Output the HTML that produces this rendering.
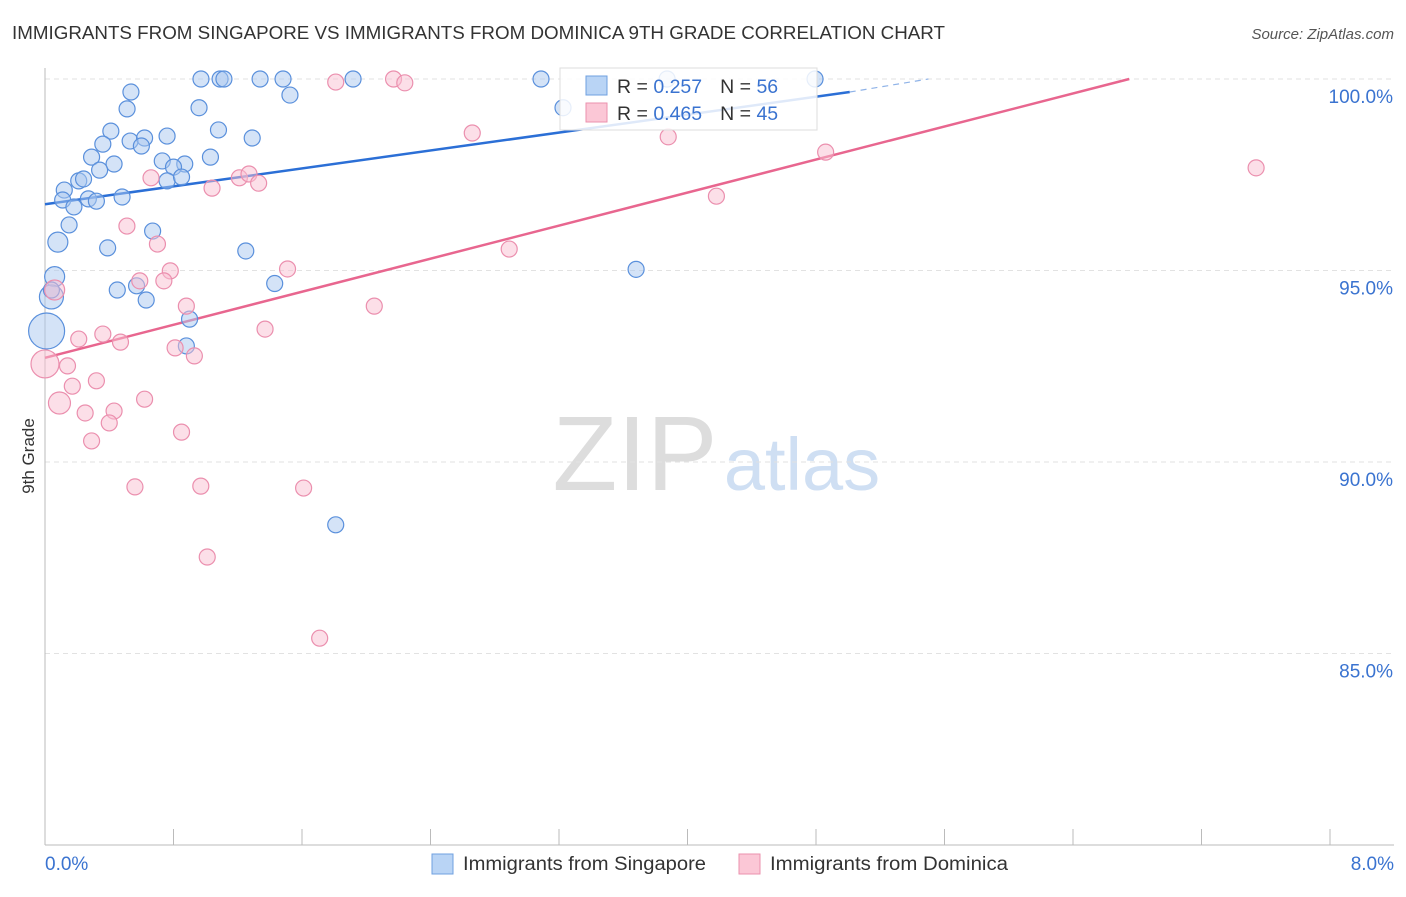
<!DOCTYPE html>
<html><head><meta charset="utf-8"><style>
body{margin:0;background:#fff;font-family:"Liberation Sans",sans-serif;}
svg text{font-family:"Liberation Sans",sans-serif;}
</style></head><body>
<svg id="chart" width="1406" height="892" xmlns="http://www.w3.org/2000/svg">
<text x="12" y="39" font-size="18.5" fill="#333" textLength="933" lengthAdjust="spacingAndGlyphs">IMMIGRANTS FROM SINGAPORE VS IMMIGRANTS FROM DOMINICA 9TH GRADE CORRELATION CHART</text>
<text x="1394" y="39" font-size="15" fill="#555" text-anchor="end" font-style="italic">Source: ZipAtlas.com</text>
<text transform="translate(34,456) rotate(-90)" font-size="17" fill="#333" text-anchor="middle">9th Grade</text>
<g><text x="635" y="490" font-size="106" fill="#ddd" font-family="Liberation Serif" text-anchor="middle">ZIP</text><text x="802" y="490" font-size="74" fill="#cfdff3" text-anchor="middle">atlas</text></g>
<g id="grid"></g><g id="axes"></g>
<g id="trends"></g>
<g id="blue"></g><g id="pink"></g>
<g>
<rect x="560" y="68" width="257" height="62" fill="#fff" fill-opacity="0.85" stroke="#ddd"/>
<rect x="586" y="76" width="21" height="19" fill="#b9d4f5" stroke="#6fa0e0"/>
<rect x="586" y="103" width="21" height="19" fill="#fbc7d6" stroke="#eb91ae"/>
<text x="617" y="93" font-size="19.5" fill="#333">R = <tspan fill="#3a73d0">0.257</tspan><tspan dx="18">N = </tspan><tspan fill="#3a73d0">56</tspan></text>
<text x="617" y="120" font-size="19.5" fill="#333">R = <tspan fill="#3a73d0">0.465</tspan><tspan dx="18">N = </tspan><tspan fill="#3a73d0">45</tspan></text>
</g>
<g>
<rect x="432" y="854" width="21" height="20" fill="#b9d4f5" stroke="#6fa0e0"/>
<text x="463" y="870" font-size="19" fill="#333" textLength="243" lengthAdjust="spacingAndGlyphs">Immigrants from Singapore</text>
<rect x="739" y="854" width="21" height="20" fill="#fbc7d6" stroke="#eb91ae"/>
<text x="770" y="870" font-size="19" fill="#333" textLength="238" lengthAdjust="spacingAndGlyphs">Immigrants from Dominica</text>
</g>
</svg>
<script>
const xTicks=["0.0%","8.0%"];
const yTicks=[100,95,90,85];
const blueX=[0.535,0.511,0.959,0.971,1.09,1.114,1.339,1.482,1.525,1.918,3.088,3.225,3.873,4.794,0.41,0.36,0.53,0.62,0.60,0.76,1.08,1.29,0.29,0.43,0.34,0.73,0.87,0.80,1.03,0.21,0.24,0.76,0.85,0.12,0.11,0.18,0.27,0.32,0.48,0.15,0.67,0.08,0.39,1.25,0.06,1.43,3.68,0.45,0.57,0.63,0.04,0.90,0.01,0.88,1.81,0.04];
const blueY=[99.66,99.22,99.25,100,100,100,100,100,99.58,100,100,99.25,100,100,98.64,98.30,98.38,98.46,98.25,98.51,98.67,98.46,97.96,97.78,97.62,97.86,97.78,97.70,97.96,97.34,97.39,97.34,97.44,97.10,96.84,96.66,96.87,96.81,96.92,96.19,96.03,95.74,95.59,95.51,94.84,94.66,95.03,94.49,94.60,94.23,94.31,93.73,93.42,93.03,88.36,94.49];
const blueR=[8,8,8,8,8,8,8,8,8,8,8,8,8,8,8,8,8,8,8,8,8,8,8,8,8,8,8,8,8,8,8,8,8,8,8,8,8,8,8,8,8,10,8,8,10,8,8,8,8,8,12,8,18,8,8,8];
const pinkX=[1.81,2.17,2.24,2.66,3.88,4.86,7.54,4.18,0.66,1.04,1.21,1.27,1.33,0.51,0.70,2.89,0.78,0.59,0.74,1.51,0.88,2.05,1.37,0.36,0.21,0.47,0.81,0.93,0.14,0.0,0.32,0.17,0.09,0.62,0.25,0.43,0.40,0.85,0.29,0.56,0.97,1.61,1.01,1.71,0.06];
const pinkY=[99.92,100,99.90,98.59,98.49,98.09,97.68,96.94,97.42,97.15,97.42,97.52,97.28,96.16,95.69,95.56,94.99,94.73,94.73,95.04,94.07,94.07,93.47,93.34,93.21,93.13,92.98,92.77,92.51,92.56,92.12,91.98,91.54,91.64,91.28,91.33,91.02,90.78,90.55,89.35,89.37,89.32,87.52,85.40,94.49];
const pinkR=[8,8,8,8,8,8,8,8,8,8,8,8,8,8,8,8,8,8,8,8,8,8,8,8,8,8,8,8,8,14,8,8,11,8,8,8,8,8,8,8,8,8,8,8,10];
const blueTrend=[[0,96.73],[5.01,99.66]];
const blueDash=[[5.01,99.66],[5.5,100]];
const pinkTrend=[[0,92.72],[6.75,100]];
const NS="http://www.w3.org/2000/svg";
const sx=v=>45+v/8*1285;
const sy=v=>79+(100-v)*38.3;
function mk(tag,parent,attrs){const e=document.createElementNS(NS,tag);for(const k in attrs)e.setAttribute(k,attrs[k]);document.getElementById(parent).appendChild(e);return e;}
yTicks.forEach(t=>{
 const l=mk('line','grid',{x1:45,x2:1394,y1:sy(t),y2:sy(t),stroke:'#e2e2e2','stroke-dasharray':'5,4'});
 
 
 const tx=mk('text','grid',{x:1393,y:sy(t)+24,'font-size':19,fill:'#3a73d0','text-anchor':'end'});
 tx.textContent=t.toFixed(1)+'%';
 
 
});
const ax=mk('line','axes',{x1:45,x2:45,y1:68,y2:845,stroke:'#bbb'});


const bx=mk('line','axes',{x1:45,x2:1394,y1:845,y2:845,stroke:'#bbb'});


for(let i=0;i<=10;i++){
 const t=mk('line','axes',{x1:sx(i*0.8),x2:sx(i*0.8),y1:829,y2:845,stroke:'#bbb'});
 
 
}
[[0,'start',45],[8,'end',1394]].forEach((a,i)=>{
 const t=mk('text','axes',{x:a[2],y:870,'font-size':19,fill:'#3a73d0','text-anchor':a[1]});
 t.textContent=xTicks[i];
 
 
});
function pts(X,Y,R,g,fill,stroke,name){
 X.forEach((x,i)=>{
  const c=mk('circle',g,{cx:sx(x),cy:sy(Y[i]),r:R[i],fill:fill,'fill-opacity':0.5,stroke:stroke,'stroke-width':1.2});
  
  
 });
}
pts(blueX,blueY,blueR,'blue','#a9c8f0','#5a90dc','singapore-point');
pts(pinkX,pinkY,pinkR,'pink','#f9c0d1','#eb8fae','dominica-point');
function ln(p,col,name,dash){
 const l=mk('line','trends',{x1:sx(p[0][0]),y1:sy(p[0][1]),x2:sx(p[1][0]),y2:sy(p[1][1]),stroke:col,'stroke-width':dash?1.2:2.5});
 if(dash)l.setAttribute('stroke-dasharray','6,5');
 
 
}
ln(blueTrend,'#2b6fd6','singapore-trendline');
ln(blueDash,'#8fb3e8','singapore-trendline-extension',true);
ln(pinkTrend,'#e8668f','dominica-trendline');
</script>
</body></html>
